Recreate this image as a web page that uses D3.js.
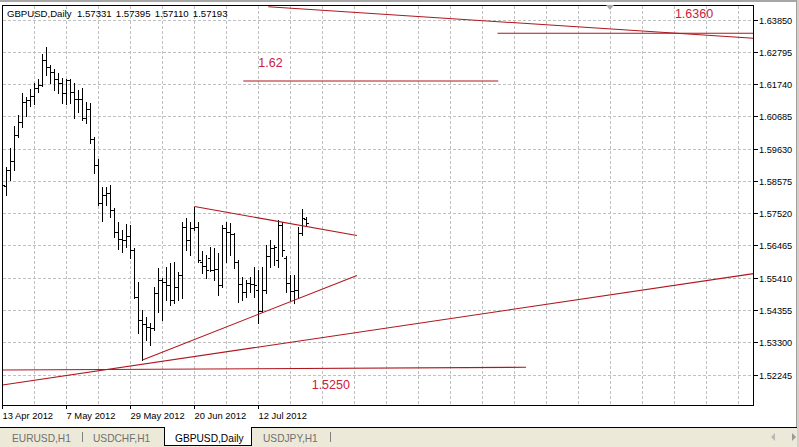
<!DOCTYPE html>
<html><head><meta charset="utf-8">
<script src="https://cdn.jsdelivr.net/npm/d3@7"></script>
<style>
html,body{margin:0;padding:0;background:#fff;}
svg{display:block;font-family:"Liberation Sans",Arial,sans-serif;}
</style></head>
<body><svg id="c" width="799" height="447"></svg>
<script>
// ---------- DATA ----------
const symbolTitle = "GBPUSD,Daily";
const lastQuote = ["1.57331","1.57395","1.57110","1.57193"];
const opens = [1.59259,1.58409,1.58932,1.59226,1.60076,1.60502,1.61156,1.61221,1.61352,1.61613,
1.61711,1.62529,1.62300,1.62137,1.61908,1.61777,1.61450,1.61875,1.61483,1.61254,
1.61240,1.60632,1.60927,1.59946,1.59095,1.57853,1.58114,1.58180,1.57624,1.56905,
1.56676,1.56650,1.56774,1.56316,1.54779,1.54027,1.53896,1.53798,1.53765,1.54910,
1.55335,1.55270,1.55171,1.54681,1.55106,1.55498,1.57068,1.56643,1.57035,1.57068,
1.55924,1.55793,1.56054,1.55662,1.55700,1.55171,1.57035,1.56905,1.56839,1.55924,
1.55204,1.54943,1.55237,1.55204,1.55008,1.54321,1.55008,1.56120,1.56381,1.55989,
1.57133,1.56054,1.55237,1.54975,1.55008,1.56872,1.57331];
const highs = [1.59422,1.59030,1.59651,1.60371,1.60730,1.61450,1.61319,1.61581,1.61777,1.61908,
1.62725,1.62954,1.62365,1.62235,1.62104,1.61940,1.61908,1.61908,1.61777,1.61548,
1.61613,1.61156,1.61123,1.60011,1.59292,1.58376,1.58376,1.58441,1.57689,1.57232,
1.56970,1.57166,1.57133,1.56381,1.55270,1.54354,1.54125,1.53929,1.55106,1.55727,
1.55400,1.55760,1.55891,1.55924,1.55597,1.57232,1.57362,1.57232,1.57722,1.57232,
1.56283,1.56152,1.56414,1.56381,1.56218,1.57133,1.57232,1.57199,1.56872,1.55989,
1.55433,1.55335,1.55433,1.55760,1.55662,1.55760,1.56479,1.56643,1.56479,1.57297,
1.57232,1.56120,1.55498,1.55498,1.57068,1.57657,1.57395];
const lows = [1.58343,1.58114,1.58605,1.58932,1.60011,1.60338,1.60698,1.61025,1.61090,1.61483,
1.61679,1.62038,1.61777,1.61548,1.61450,1.61123,1.61090,1.61123,1.60632,1.60829,
1.60567,1.60469,1.59815,1.58834,1.57787,1.57264,1.57787,1.57395,1.56741,1.56349,
1.56251,1.56414,1.56054,1.54746,1.53602,1.52719,1.53373,1.53209,1.53700,1.54289,
1.54027,1.54681,1.54517,1.54583,1.54681,1.54746,1.56316,1.56152,1.56970,1.55924,
1.55564,1.55400,1.55629,1.55335,1.54844,1.55106,1.55924,1.56152,1.55727,1.54616,
1.54681,1.54779,1.54943,1.54779,1.53929,1.54289,1.54910,1.55760,1.55825,1.55760,
1.56120,1.54943,1.54681,1.54583,1.54746,1.56806,1.57110];
const closes = [1.58441,1.58932,1.59226,1.60076,1.60502,1.61156,1.61221,1.61352,1.61613,1.61711,
1.62529,1.62300,1.62137,1.61908,1.61777,1.61450,1.61875,1.61483,1.61254,1.61240,
1.60632,1.60927,1.59946,1.59095,1.57853,1.58114,1.58180,1.57624,1.56905,1.56676,
1.56650,1.56774,1.56316,1.54779,1.54027,1.53896,1.53798,1.53765,1.54910,1.55335,
1.55270,1.55171,1.54681,1.55106,1.55498,1.57068,1.56643,1.57035,1.57068,1.55989,
1.55793,1.55662,1.55662,1.55700,1.55171,1.57035,1.56905,1.56839,1.55924,1.55204,
1.54943,1.55237,1.55204,1.55171,1.54321,1.55008,1.56120,1.56381,1.56414,1.57133,
1.56316,1.55237,1.54975,1.55008,1.56872,1.57362,1.57193];
const priceTicks = [1.52245,1.53300,1.54355,1.55410,1.56465,1.57520,1.58575,1.59630,1.60685,1.61740,1.62795,1.63850];
const dateTickLabels = ["13 Apr 2012","7 May 2012","29 May 2012","20 Jun 2012","12 Jul 2012"];
const dateTickBars = [0,16,32,48,64];
// trend lines: bar index / price anchors
const lineBar1 = [66.45,123.75,60.2,0,0,35,48];
const linePrice1 = [1.64272,1.63402,1.61842,1.52392,1.51901,1.52719,1.57738];
const lineBar2 = [187.75,187.75,123.95,130.9,187.75,88.6,88.6];
const linePrice2 = [1.63239,1.63402,1.61842,1.52480,1.55544,1.55485,1.56790];
const noteTexts = ["1.6360","1.62","1.5250"];
const noteBars = [168.1,63.95,77.3];
const notePrices = [1.63893,1.62310,1.51761];
const tabNames = ["EURUSD,H1","USDCHF,H1","GBPUSD,Daily","USDJPY,H1"];

// ---------- LAYOUT ----------
const L = 2.5, T = 5.5, R = 753.5, B = 405.5;
const svg = d3.select("#c");
const x = d3.scaleLinear().domain([0, 187.75]).range([L, R]);
const y = d3.scaleLinear().domain([1.52245, 1.63850]).range([374.5, 19.6]);
const cy = v => Math.round(y(v)) + 0.5;

// window chrome
svg.append("rect").attr("x",0).attr("y",0).attr("width",799).attr("height",2).attr("fill","#a6a6a6");
svg.append("rect").attr("x",797).attr("y",0).attr("width",2).attr("height",447).attr("fill","#d4d0c8");
svg.append("line").attr("x1",796.5).attr("x2",796.5).attr("y1",0).attr("y2",428).attr("stroke","#a0a0a0");

// clip
svg.append("defs").append("clipPath").attr("id","pc").append("rect")
  .attr("x",L).attr("y",T).attr("width",R-L).attr("height",B-T);
const g = svg.append("g").attr("clip-path","url(#pc)").attr("shape-rendering","crispEdges");

// grid
g.selectAll(".hg").data(priceTicks).enter().append("line")
  .attr("x1",L).attr("x2",R).attr("y1",d=>cy(d)).attr("y2",d=>cy(d))
  .attr("stroke","#c0c0c0").attr("stroke-dasharray","3,2");
g.selectAll(".vg").data(d3.range(8,188,8)).enter().append("line")
  .attr("x1",d=>x(d)).attr("x2",d=>x(d)).attr("y1",T).attr("y2",B)
  .attr("stroke","#c0c0c0").attr("stroke-dasharray","3,2");

// bars
const bars = g.append("g");
opens.forEach((o,i)=>{
  const xi = x(i);
  const p = `M${xi},${cy(highs[i])-0.5}V${cy(lows[i])+0.5}`+
            `M${xi-2.5},${cy(o)}H${xi}`+
            `M${xi},${cy(closes[i])}H${xi+2.5}`;
  bars.append("path").attr("d",p).attr("stroke","#000").attr("stroke-width",1).attr("fill","none");
});

// trend lines
const tl = svg.append("g").attr("clip-path","url(#pc)");
lineBar1.forEach((b,i)=>{
  tl.append("line").attr("x1",x(b)).attr("y1",y(linePrice1[i]))
    .attr("x2",x(lineBar2[i])).attr("y2",y(linePrice2[i]))
    .attr("stroke","#b0161e").attr("stroke-width",1.1);
});
// text notes
noteTexts.forEach((t,i)=>{
  svg.append("text").attr("x",x(noteBars[i])).attr("y",y(notePrices[i]))
    .attr("fill","#d0203c").attr("font-size","12.5px").text(t);
});

// border
svg.append("rect").attr("x",L).attr("y",T).attr("width",R-L).attr("height",B-T)
  .attr("fill","none").attr("stroke","#000").attr("shape-rendering","crispEdges");
// shift marker
svg.append("path").attr("d","M606,5L614,5L610,10Z").attr("fill","#a8a8a8");

// right axis
const ra = svg.append("g");
priceTicks.forEach(v=>{
  ra.append("line").attr("x1",R).attr("x2",R+4).attr("y1",cy(v)).attr("y2",cy(v))
    .attr("stroke","#000").attr("shape-rendering","crispEdges");
  ra.append("text").attr("x",R+5.5).attr("y",cy(v)+3.5).attr("font-size","9.2px")
    .attr("fill","#000").text(v.toFixed(5));
});
// bottom axis
dateTickBars.forEach((b,i)=>{
  svg.append("line").attr("x1",x(b)).attr("x2",x(b)).attr("y1",B).attr("y2",B+3.5)
    .attr("stroke","#000").attr("shape-rendering","crispEdges");
  svg.append("text").attr("x",x(b)).attr("y",418.5).attr("font-size","9.4px")
    .attr("fill","#000").text(dateTickLabels[i]);
});

// header
svg.append("text").attr("x",7).attr("y",17).attr("font-size","9.6px").text(symbolTitle);
svg.append("text").attr("x",77).attr("y",17).attr("font-size","9.6px")
  .attr("word-spacing","1.5px").text(lastQuote.join(" "));

// tab bar
svg.append("rect").attr("x",0).attr("y",428).attr("width",797).attr("height",19).attr("fill","#ece9d8");
svg.append("line").attr("x1",0).attr("x2",164.5).attr("y1",427.5).attr("y2",427.5).attr("stroke","#000").attr("shape-rendering","crispEdges");
svg.append("line").attr("x1",251.5).attr("x2",797).attr("y1",427.5).attr("y2",427.5).attr("stroke","#000").attr("shape-rendering","crispEdges");
svg.append("path").attr("d","M164.5,427V445.5H251.5V427").attr("fill","#fff").attr("stroke","#000").attr("shape-rendering","crispEdges");
const tabX = [12,93,175,263];
tabNames.forEach((t,i)=>{
  svg.append("text").attr("x",tabX[i]).attr("y",441.5).attr("font-size","10.2px")
    .attr("fill", i===2 ? "#000" : "#707070").text(t);
});
[82.5,330.5].forEach(sx=>{
  svg.append("line").attr("x1",sx).attr("x2",sx).attr("y1",431.5).attr("y2",442).attr("stroke","#808080").attr("shape-rendering","crispEdges");
});
svg.append("path").attr("d","M771,437L775,433L775,441Z").attr("fill","#b8b8b8");
svg.append("path").attr("d","M792,433L796,437L792,441Z").attr("fill","#9a9a9a");
</script></body></html>
